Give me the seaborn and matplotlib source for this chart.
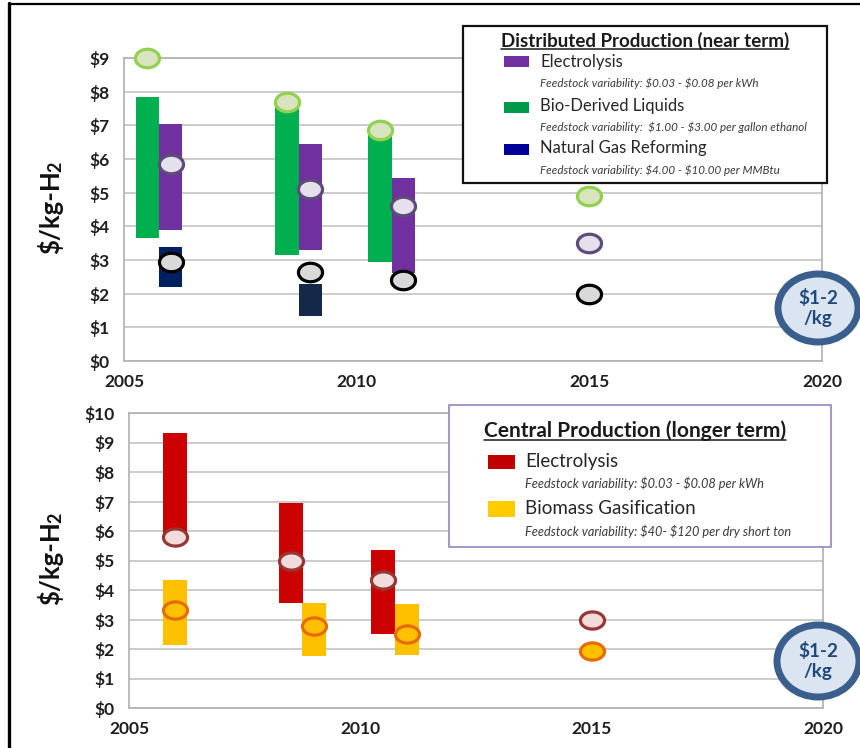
import numpy as np
import pandas as pd
import matplotlib
matplotlib.use("Agg")
import matplotlib.pyplot as plt
import seaborn as sns
from matplotlib.path import Path
from matplotlib.patches import Rectangle, Ellipse
from matplotlib.lines import Line2D

# ---- distributed production (near term) ----
bio_years = [2005.5, 2008.5, 2010.5]
bio_low = [3.65, 3.15, 2.95]
bio_high = [7.85, 7.70, 6.85]
bio_pt_years = [2005.5, 2008.5, 2010.5, 2015]
bio_pt = [9.0, 7.7, 6.85, 4.9]

elec_d_years = [2006, 2009, 2011]
elec_d_low = [3.9, 3.3, 2.6]
elec_d_high = [7.05, 6.45, 5.45]
elec_d_pt_years = [2006, 2009, 2011, 2015]
elec_d_pt = [5.85, 5.1, 4.6, 3.5]

ngr_years = [2006, 2009]
ngr_low = [2.2, 1.35]
ngr_high = [3.4, 2.3]
ngr_pt_years = [2006, 2009, 2011, 2015]
ngr_pt = [2.95, 2.65, 2.4, 2.0]

# ---- central production (longer term) ----
elec_c_years = [2006, 2008.5, 2010.5]
elec_c_low = [5.8, 3.55, 2.5]
elec_c_high = [9.33, 6.95, 5.37]
elec_c_pt_years = [2006, 2008.5, 2010.5, 2015]
elec_c_pt = [5.8, 4.98, 4.35, 2.97]

bgas_years = [2006, 2009, 2011]
bgas_low = [2.12, 1.75, 1.8]
bgas_high = [4.33, 3.55, 3.53]
bgas_pt_years = [2006, 2009, 2011, 2015]
bgas_pt = [3.31, 2.79, 2.52, 1.94]

year_ticks = [2005, 2010, 2015, 2020]
top_dollars = list(range(0, 10))
bot_dollars = list(range(0, 11))

sns.set_theme(style="white")
plt.rcParams["font.family"] = ["Lato", "DejaVu Sans"]

W, H = 860, 748
fig = plt.figure(figsize=(W / 100, H / 100), dpi=100)


def fx(x):
    return x / W


def fy(y):
    return 1 - y / H


def ellipse_marker(ratio):
    t = np.linspace(0, 2 * np.pi, 73)
    return Path(np.column_stack([ratio * np.cos(t), np.sin(t)]), closed=True)


def range_bars(ax, years, low, high, color, width):
    low = np.asarray(low)
    high = np.asarray(high)
    ax.bar(years, high - low, bottom=low, width=width, color=color,
           linewidth=0, zorder=2)


def targets(ax, years, vals, face, edge, marker, size):
    df = pd.DataFrame({"year": years, "cost": vals})
    sns.scatterplot(data=df, x="year", y="cost", ax=ax, marker=marker,
                    s=size, color=face, edgecolor=edge, linewidth=2.3,
                    zorder=3, legend=False)


ylabels = []


def style_axis(ax, dollars, label_x):
    ax.set_xlim(2005, 2020)
    ax.set_ylim(0, dollars[-1])
    ax.set_xticks(year_ticks)
    ax.set_xticklabels([str(y) for y in year_ticks], fontweight="bold")
    ax.set_xticks(range(2005, 2021), minor=True)
    ax.set_yticks(dollars)
    ax.set_yticklabels([rf"\${d}" for d in dollars], fontweight="bold")
    ax.yaxis.grid(True, color="#c3c3c3", linewidth=1.2)
    ax.xaxis.grid(False)
    ax.set_axisbelow(True)
    for sp in ax.spines.values():
        sp.set_color("#b0b0b0")
        sp.set_linewidth(1.2)
    ax.tick_params(axis="both", which="both", direction="out", length=4.5,
                   width=1.1, color="#b0b0b0", labelsize=12.5,
                   labelcolor="#1e1e1e")
    ax.tick_params(axis="y", pad=6)
    ax.tick_params(axis="x", pad=5)
    ax.set_xlabel("")
    ax.set_ylabel("")
    # y label "$/kg-H" + subscript 2 added after the first draw
    t = ax.text(label_x, 0.49, r"\$/kg-H", transform=ax.transAxes,
                rotation=90, ha="center", va="center", fontsize=18.5,
                fontweight="bold", color="#111111")
    ylabels.append(t)


# ---------------- top panel ----------------
ax1 = fig.add_axes([fx(124), fy(361), (822 - 124) / W, (361 - 58) / H])
range_bars(ax1, bio_years, bio_low, bio_high, "#00b050", 0.5)
range_bars(ax1, elec_d_years, elec_d_low, elec_d_high, "#7030a0", 0.5)
range_bars(ax1, ngr_years, ngr_low, ngr_high, ["#002060", "#14284a"], 0.5)
m_top = ellipse_marker(1.3)
targets(ax1, bio_pt_years, bio_pt, "#d7e4bd", "#92d050", m_top, 300)
targets(ax1, elec_d_pt_years, elec_d_pt, "#e6e0ec", "#5f4b7a", m_top, 300)
targets(ax1, ngr_pt_years, ngr_pt, "#d9d9d9", "#000000", m_top, 300)
style_axis(ax1, top_dollars, (50 - 124) / 698)
for c in ax1.collections:
    c.set_clip_on(False)

# ---------------- bottom panel ----------------
ax2 = fig.add_axes([fx(129), fy(708), (823 - 129) / W, (708 - 413) / H])
range_bars(ax2, elec_c_years, elec_c_low, elec_c_high, "#cc0000", 0.52)
range_bars(ax2, bgas_years, bgas_low, bgas_high, "#ffc000", 0.52)
m_bot = ellipse_marker(1.4)
targets(ax2, elec_c_pt_years, elec_c_pt, "#f2dcdb", "#953735", m_bot, 300)
targets(ax2, bgas_pt_years, bgas_pt, "#ffc000", "#e46c0a", m_bot, 300)
style_axis(ax2, bot_dollars, (50 - 129) / 694)

# ---------------- legends (drawn as boxes) ----------------
underlines = []


def legend_box(x0, y0, x1, y1, edge, lw):
    fig.patches.append(Rectangle((fx(x0), fy(y1)), (x1 - x0) / W, (y1 - y0) / H,
                                 transform=fig.transFigure, facecolor="white",
                                 edgecolor=edge, linewidth=lw, zorder=5))


def legend_title(text, xc, y, size):
    t = fig.text(fx(xc), fy(y), text, ha="center", va="center", fontsize=size,
                 fontweight="bold", color="#1a1a1a", zorder=6)
    underlines.append(t)


def legend_entry(color, sx0, sx1, sy0, sy1, label, lx, ly, note, ny, size,
                 nsize):
    fig.patches.append(Rectangle((fx(sx0), fy(sy1)), (sx1 - sx0) / W,
                                 (sy1 - sy0) / H, transform=fig.transFigure,
                                 facecolor=color, edgecolor="none", zorder=6))
    fig.text(fx(lx), fy(ly), label, ha="left", va="center", fontsize=size,
             color="#262626", zorder=6)
    fig.text(fx(lx), fy(ny), note, ha="left", va="center", fontsize=nsize,
             style="italic", color="#3a3a3a", zorder=6)


legend_box(463, 26, 827, 183, "#111111", 1.6)
legend_title("Distributed Production (near term)", 645, 41, 13.5)
legend_entry("#7030a0", 504, 529, 56, 67, "Electrolysis", 540, 62,
             r"Feedstock variability: \$0.03 - \$0.08 per kWh", 83, 12, 8.4)
legend_entry("#00994c", 504, 529, 102, 113, "Bio-Derived Liquids", 540, 106,
             r"Feedstock variability:  \$1.00 - \$3.00 per gallon ethanol", 127,
             12, 8.4)
legend_entry("#000099", 504, 529, 144, 155, "Natural Gas Reforming", 540, 148,
             r"Feedstock variability: \$4.00 - \$10.00 per MMBtu", 170, 12, 8.4)

legend_box(449, 405, 831, 547, "#9585bd", 1.2)
legend_title("Central Production (longer term)", 635, 431, 15)
legend_entry("#c00000", 488, 515, 455, 469, "Electrolysis", 525, 461,
             r"Feedstock variability: \$0.03 - \$0.08 per kWh", 483, 13.5, 9.2)
legend_entry("#ffcc00", 488, 515, 501, 517, "Biomass Gasification", 525, 508,
             r"Feedstock variability: \$40- \$120 per dry short ton", 531, 13.5,
             9.2)

# ---------------- target badges ----------------
for cx, cy, w, h in [(818, 308, 80, 68), (818, 661, 82, 72)]:
    fig.patches.append(Ellipse((fx(cx), fy(cy)), w / W, h / H,
                               transform=fig.transFigure, facecolor="#dbe5f1",
                               edgecolor="#3a5f8c", linewidth=5, zorder=7))
    fig.text(fx(cx), fy(cy), "\\$1-2\n/kg", ha="center", va="center",
             fontsize=13.5, fontweight="bold", color="#1f497d",
             linespacing=1.15, zorder=8)

# ---------------- slide frame ----------------
fig.lines.append(Line2D([fx(8.5), fx(8.5)], [0, fy(3)], transform=fig.transFigure,
                        color="black", linewidth=2.4, zorder=9))
fig.lines.append(Line2D([fx(8.5), 1], [fy(3.5), fy(3.5)], transform=fig.transFigure,
                        color="black", linewidth=1.6, zorder=9))

# underline the legend titles, add the H2 subscripts
fig.canvas.draw()
inv = fig.transFigure.inverted()
for t in underlines:
    bb = t.get_window_extent()
    (x0, y0), (x1, _) = inv.transform([(bb.x0, bb.y0 + 1), (bb.x1, bb.y0 + 1)])
    fig.lines.append(Line2D([x0, x1], [y0, y0], transform=fig.transFigure,
                            color="#1a1a1a", linewidth=1.1, zorder=6))
for t in ylabels:
    bb = t.get_window_extent()
    sx, sy = inv.transform((bb.x1 + 1, bb.y1 - 1))
    fig.text(sx, sy, "2", rotation=90, ha="right", va="bottom", fontsize=13,
             fontweight="bold", color="#111111")

fig.savefig("out.png", dpi=100)
